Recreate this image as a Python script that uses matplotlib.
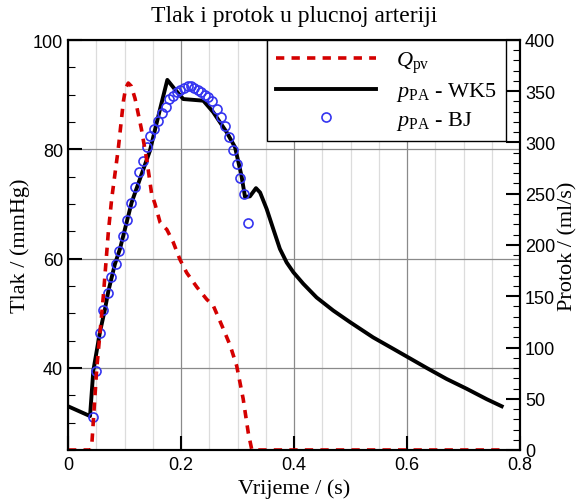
import numpy as np
import matplotlib
matplotlib.use('Agg')
import matplotlib.pyplot as plt
from matplotlib.ticker import MultipleLocator

plt.rcParams['mathtext.fontset'] = 'custom'
plt.rcParams['mathtext.rm'] = 'Liberation Serif'
plt.rcParams['mathtext.it'] = 'Liberation Serif:italic'

# tlak WK5 model (mmHg)
t_wk5 = [0.0, 0.039, 0.0448, 0.0566, 0.0655, 0.0713, 0.083, 0.092, 0.1127, 0.145,
         0.163, 0.1758, 0.189, 0.204, 0.2395, 0.257, 0.281, 0.2956, 0.307, 0.3133,
         0.322, 0.3327, 0.340, 0.3516, 0.3634, 0.375, 0.387, 0.399, 0.4165, 0.440,
         0.4696, 0.499, 0.540, 0.5758, 0.5995, 0.635, 0.670, 0.7056, 0.741, 0.7676]
p_wk5 = [33.0, 31.2, 39.5, 46.6, 50.8, 54.0, 59.0, 61.8, 70.3, 79.75,
         87.4, 92.7, 91.0, 89.2, 88.9, 86.8, 83.1, 80.4, 75.2, 71.3,
         71.4, 72.9, 72.1, 69.1, 65.4, 61.8, 59.3, 57.5, 55.4, 52.9,
         50.5, 48.4, 45.6, 43.5, 42.1, 40.0, 38.0, 36.2, 34.3, 33.0]

# tlak BJ (mmHg)
t_bj = [0.0437, 0.0496, 0.0566, 0.0625, 0.0713, 0.0761, 0.0844, 0.0903, 0.098, 0.1039,
        0.1115, 0.1186, 0.1262, 0.1333, 0.1404, 0.1451, 0.1527, 0.1598, 0.1658, 0.1735,
        0.1793, 0.186, 0.193, 0.199, 0.205, 0.212, 0.218, 0.2235, 0.2295, 0.235,
        0.2425, 0.248, 0.254, 0.263, 0.271, 0.278, 0.2855, 0.2915, 0.2986, 0.3044,
        0.3115, 0.319]
p_bj = [31.0, 39.5, 46.4, 50.7, 53.8, 56.6, 59.0, 61.4, 64.1, 67.1,
        70.1, 73.1, 75.8, 77.9, 80.4, 82.4, 83.8, 85.2, 86.6, 87.8,
        89.2, 89.8, 90.4, 90.9, 91.2, 91.5, 91.6, 91.3, 90.9, 90.4,
        90.0, 89.5, 88.9, 87.4, 86.0, 84.2, 82.3, 79.9, 77.4, 74.8,
        71.8, 66.5]

# protok Qpv (ml/s)
t_q = [0.0, 0.040, 0.042, 0.0508, 0.0625, 0.0713, 0.0773, 0.089, 0.098, 0.102,
       0.1067, 0.112, 0.1186, 0.130, 0.140, 0.148, 0.154, 0.163, 0.175, 0.186,
       0.198, 0.210, 0.228, 0.2455, 0.257, 0.275, 0.287, 0.2986, 0.310, 0.319,
       0.325, 0.327, 0.768]
q_pv = [0, 0, 4, 79, 150, 212, 245, 294, 340, 353,
        358, 355, 343, 313, 281, 250, 240, 222, 215, 203,
        186, 173, 159, 147, 141, 118, 102, 82, 50, 17,
        1, 0, 0]

fig = plt.figure(figsize=(5.8, 5.02), dpi=100)
ax1 = fig.add_axes([68/580, 1-451/502, 452/580, 410/502])
ax2 = ax1.twinx()

serif = 'Liberation Serif'
sans = 'Liberation Sans'

ax1.set_xlim(0, 0.8)
ax1.set_ylim(25, 100)
ax2.set_ylim(0, 400)

ax1.xaxis.set_major_locator(MultipleLocator(0.2))
ax1.xaxis.set_minor_locator(MultipleLocator(0.05))
ax1.yaxis.set_major_locator(MultipleLocator(20))
ax1.yaxis.set_minor_locator(MultipleLocator(5))
ax2.yaxis.set_major_locator(MultipleLocator(50))
ax2.yaxis.set_minor_locator(MultipleLocator(10))

ax1.grid(True, which='major', axis='both', color='#8a8a8a', lw=0.9)
ax1.grid(True, which='minor', axis='x', color='#dcdcdc', lw=0.9)
ax1.set_axisbelow(True)

ax1.tick_params(axis='x', which='major', direction='in', length=10, width=1.5,
                labelsize=13, pad=4, top=False)
ax1.tick_params(axis='x', which='minor', length=0)
ax1.tick_params(axis='y', which='major', direction='in', length=10, width=1.5, labelsize=13)
ax1.tick_params(axis='y', which='minor', direction='in', length=5, width=0.8)
ax2.tick_params(axis='y', which='major', direction='in', length=10, width=1.5, labelsize=13)
ax2.tick_params(axis='y', which='minor', direction='in', length=5, width=0.8)
ax1.set_xticks([0, 0.2, 0.4, 0.6, 0.8])
ax1.set_xticklabels(['0', '0.2', '0.4', '0.6', '0.8'])
for lab in ax1.get_xticklabels() + ax1.get_yticklabels() + ax2.get_yticklabels():
    lab.set_fontfamily(sans)

for ax in (ax1, ax2):
    for s in ax.spines.values():
        s.set_linewidth(1.5)

l_bj, = ax1.plot(t_bj, p_bj, 'o', ms=6.5, mfc='none', mec='#3434f0', mew=1.2, zorder=4)
l_wk5, = ax1.plot(t_wk5, p_wk5, color='black', lw=2.8, zorder=3)
l_q, = ax2.plot(t_q, q_pv, color='#d40000', lw=2.6, ls=(0, (2.3, 2.0)))

ax1.set_xlabel('Vrijeme / (s)', fontfamily=serif, fontsize=16, labelpad=4)
ax1.set_ylabel('Tlak / (mmHg)', fontfamily=serif, fontsize=16, labelpad=2)
ax2.set_ylabel('Protok / (ml/s)', fontfamily=serif, fontsize=16, labelpad=2)
ax1.set_title('Tlak i protok u plucnoj arteriji', fontfamily=serif, fontsize=17, pad=14)

leg = ax2.legend([l_q, l_wk5, l_bj],
                 [r'$Q_{\rm pv}$', r'$p_{\rm PA}$ - WK5', r'$p_{\rm PA}$ - BJ'],
                 loc='upper right', bbox_to_anchor=(0.969, 1.0), borderaxespad=0,
                 prop={'family': serif, 'size': 16}, handlelength=4.5,
                 handletextpad=0.9, labelspacing=0.25, numpoints=1,
                 fancybox=False, framealpha=1, edgecolor='black', borderpad=0.42)
leg.get_frame().set_linewidth(1.0)

fig.savefig('out.png', dpi=100)
